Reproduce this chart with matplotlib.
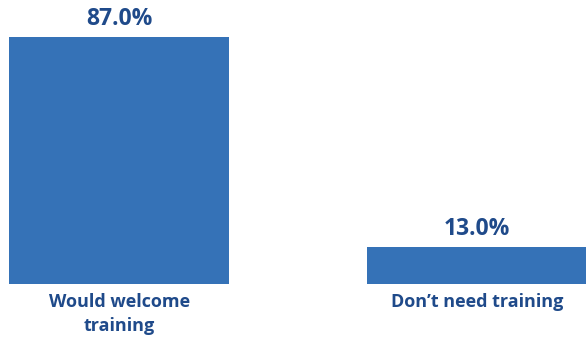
import matplotlib.pyplot as plt

categories = ["Would welcome\ntraining", "Don\u2019t need training"]
values = [87.0, 13.0]

bar_color = "#3572b7"
text_color = "#1f4a8a"

fig = plt.figure(figsize=(5.86, 3.38), dpi=100)
ax = fig.add_axes([0, 54 / 338, 1, 284 / 338])

x = list(range(len(values)))
bars = ax.bar(x, values, width=0.615, color=bar_color)

ax.set_xlim(-0.333, 1.305)
ax.set_ylim(0, 100)
ax.axis("off")

for xi, v in zip(x, values):
    ax.text(xi, v + 2.0, f"{v:.1f}%", ha="center", va="bottom",
            fontsize=16.5, fontweight="bold", color=text_color, family="Open Sans")

for xi, lab in zip(x, categories):
    ax.text(xi, -3.0, lab, ha="center", va="top", fontsize=13,
            fontweight="bold", color=text_color, family="Open Sans",
            linespacing=1.45)

fig.savefig("out.png", dpi=100)
